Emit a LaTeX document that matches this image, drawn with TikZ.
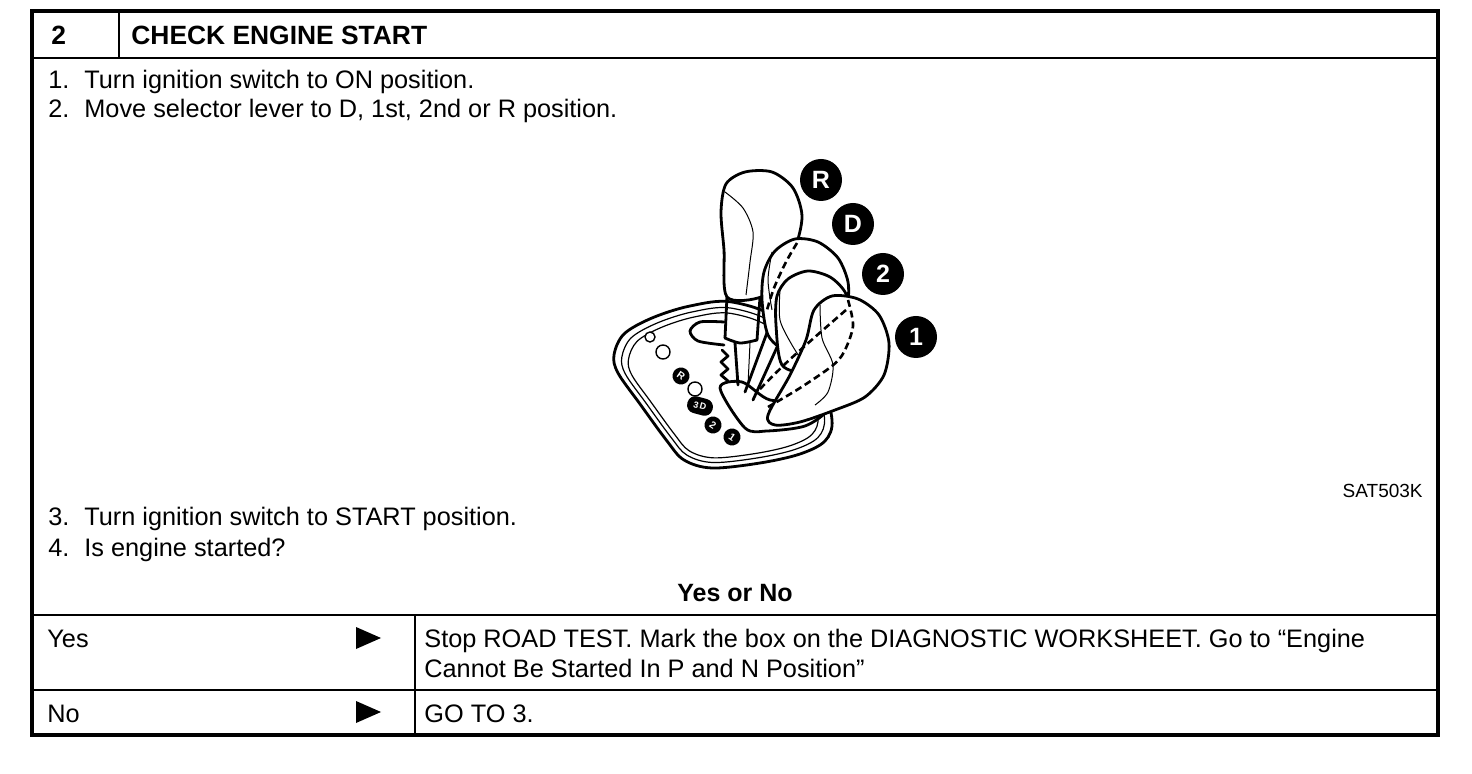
\documentclass[tikz,border=0pt]{standalone}
\usepackage{fontspec}
\setmainfont{Liberation Sans}
\usetikzlibrary{positioning}

\newcommand\stepno[1]{\makebox[18pt][l]{#1}}

\tikzset{
  txt/.style={anchor=base west, inner sep=0pt, font=\fontsize{12.65}{15}\selectfont},
  head/.style={txt, font=\fontsize{12.5}{15}\selectfont\bfseries},
  frame/.style={line width=2pt},
  rule/.style={line width=1.2pt},
  outline/.style={line width=1.4pt, line join=round, line cap=round},
  fine/.style={line width=0.5pt},
  knob/.style={outline, fill=white},
  hidden/.style={line width=1.3pt, dash pattern=on 3.5pt off 2pt},
  callout/.style={circle, fill=black, text=white, minimum size=21pt, inner sep=0pt, font=\fontsize{12.5}{12}\selectfont\bfseries},
  tag/.style={circle, fill=black, text=white, minimum size=8.5pt, inner sep=0pt, font=\fontsize{5}{5}\selectfont\bfseries, rotate=-35},
  hole/.style={circle, draw, line width=0.7pt, fill=white, inner sep=0pt},
  goarrow/.pic={\fill (0,-11) -- (25,0) -- (0,11) -- cycle;}
}

\begin{document}
\begin{tikzpicture}[x=0.5pt, y=-0.5pt]
  \useasboundingbox (0,0) rectangle (1472,774);

  % table frame
  \draw[frame] (32,11) rectangle (1438,735);
  \draw[rule] (32,58) -- (1438,58);
  \draw[rule] (119,11) -- (119,58);
  \draw[rule] (32,615) -- (1438,615);
  \draw[rule] (32,690) -- (1438,690);
  \draw[rule] (415,615) -- (415,735);

  % header
  \node[head, font=\fontsize{13.2}{15}\selectfont\bfseries] (num)   at (51,45) {2};
  \node[head, font=\fontsize{13.2}{15}\selectfont\bfseries] (title) at (131,45) {CHECK ENGINE START};

  % steps
  \node[txt] (s1) at (48,89)  {\stepno{1.}Turn ignition switch to ON position.};
  \node[txt] (s2) at (48,118) {\stepno{2.}Move selector lever to D, 1st, 2nd or R position.};
  \node[txt] (s3) at (48,526) {\stepno{3.}Turn ignition switch to START position.};
  \node[txt] (s4) at (48,557) {\stepno{4.}Is engine started?};
  \node[txt, anchor=base east, font=\fontsize{9.5}{11}\selectfont] (code) at (1423,498) {SAT503K};

  \node[head, anchor=base] (ask) at (735,602) {Yes or No};

  % answers
  \node[txt] (yes) at (47,647) {Yes};
  \pic at (356,638) {goarrow};
  \node[txt] (yesgo)  at (424,647) {Stop ROAD TEST. Mark the box on the DIAGNOSTIC WORKSHEET. Go to “Engine};
  \node[txt] (yesgo2) at (424,677) {Cannot Be Started In P and N Position”};
  \node[txt] (no) at (47,722) {No};
  \pic at (356,712) {goarrow};
  \node[txt] (nogo) at (424,722) {GO TO 3.};

  % selector plate
  \foreach \s/\w in {1/1.4pt, 0.93/0.6pt, 0.87/0.6pt}
    \draw[line width=\w, scale around={\s:(725,390)}]
      plot[smooth cycle, tension=0.55] coordinates {(614,355) (624,334) (652,318) (690,306) (732,302) (782,322) (820,380) (832,420) (825,441) (800,454) (760,463) (712,468) (684,460) (667,441) (640,404) (618,373)};

  % gate
  \draw[outline] plot[smooth] coordinates {(724,322) (700,322) (690,331) (698,341) (724,345)};
  \draw[outline] (722,350) -- (728,356) -- (721,362) -- (728,369) -- (721,375) -- (728,381) -- (722,388);

  % position marks
  \node[hole, minimum size=5pt] (h1) at (650,337) {};
  \node[hole, minimum size=7pt] (h2) at (663,352) {};
  \node[tag] (tR) at (681,376) {R};
  \node[hole, minimum size=7pt] (h3) at (695,389) {};
  \node[tag, rectangle, rounded corners=4pt, minimum width=13pt, rotate=20, font=\fontsize{4.5}{5}\selectfont\bfseries] (t3) at (700,406) {3\,D};
  \node[tag] (t2) at (713,425) {2};
  \node[tag] (t1) at (732,437) {1};

  % boot and pivot
  \draw[knob] plot[smooth cycle] coordinates {(720,388) (742,382) (770,400) (810,400) (827,410) (805,426) (767,431) (745,428)};

  % shafts
  \draw[outline] (727,296) -- (725,338);
  \draw[outline] (760,297) -- (757,340);
  \draw[outline] plot[smooth] coordinates {(725,338) (740,343) (757,340)};
  \draw[outline] (735,343) -- (738,385);
  \draw[fine] (750,343) -- (748,385);
  \draw[outline] (768,330) -- (745,392);
  \draw[outline] (778,345) -- (753,400);

  % knobs, back to front
  \draw[knob] plot[smooth cycle] coordinates {(727,297) (724,250) (721,212) (726,184) (745,172) (772,172) (793,188) (802,216) (795,248) (778,277) (761,297)};
  \draw[fine] plot[smooth] coordinates {(725,192) (743,208) (753,232) (750,262) (746,295)};

  \draw[knob] plot[smooth cycle] coordinates {(768,335) (762,300) (764,272) (775,251) (795,239) (818,242) (838,258) (848,282) (847,306) (836,328) (812,345) (786,350)};
  \draw[fine] plot[smooth] coordinates {(772,252) (768,280) (772,310)};

  \draw[knob] plot[smooth cycle] coordinates {(782,365) (776,325) (777,296) (788,279) (808,271) (830,277) (845,292) (851,313) (847,337) (833,357) (808,372)};
  \draw[fine] plot[smooth] coordinates {(780,290) (780,320) (792,345) (805,365)};

  \draw[knob] plot[smooth cycle] coordinates {(768,415) (790,375) (806,340) (814,310) (832,296) (858,299) (879,315) (889,343) (884,375) (865,397) (835,410) (800,422) (775,425)};
  \draw[fine] plot[smooth] coordinates {(820,305) (822,338) (833,365) (828,392) (815,405)};

  % hidden edges
  \draw[hidden] plot[smooth] coordinates {(797,243) (786,262) (774,288) (767,310)};
  \draw[hidden] plot[smooth] coordinates {(848,300) (853,326) (844,352) (832,366) (800,388) (768,407)};
  \draw[hidden] plot[smooth] coordinates {(846,310) (815,337) (785,364) (757,392)};

  % position callouts
  \node[callout] (cR) at (821,180) {R};
  \node[callout] (cD) at (853,224) {D};
  \node[callout] (c2) at (883,274) {2};
  \node[callout] (c1) at (916,337) {1};
\end{tikzpicture}
\end{document}
